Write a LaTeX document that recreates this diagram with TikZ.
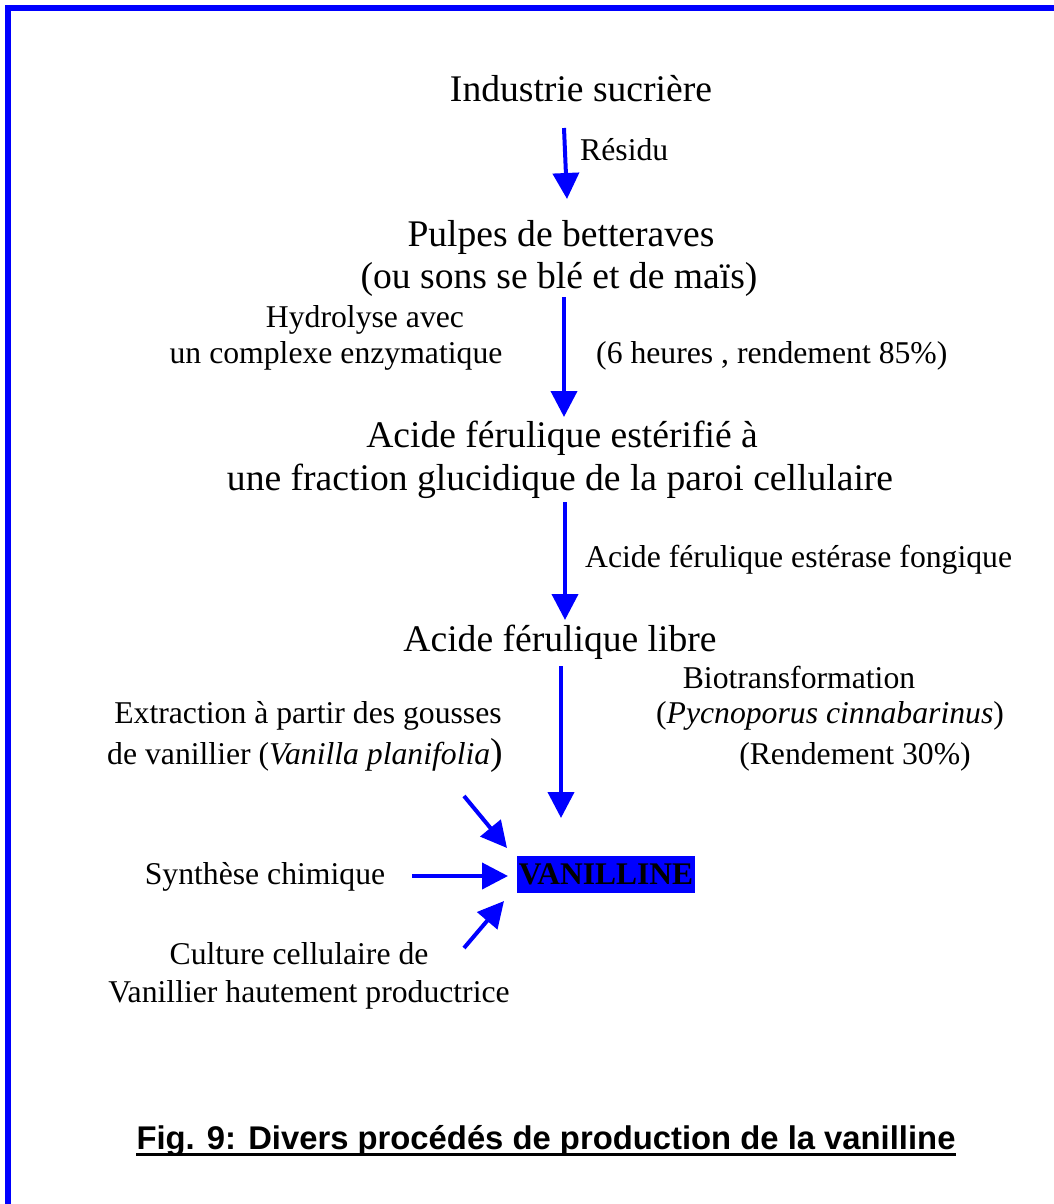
\documentclass[tikz,border=0pt]{standalone}
\usepackage{fontspec}
\setmainfont{Liberation Serif}
\newfontfamily\capfont{Liberation Sans}
\usetikzlibrary{arrows.meta}
\definecolor{pblue}{RGB}{0,0,255}
\tikzset{
  big/.style={inner sep=0pt, anchor=base, font=\fontsize{37.6}{44}\selectfont},
  small/.style={inner sep=0pt, anchor=base, font=\fontsize{31.7}{38}\selectfont},
  flow/.style={draw=pblue, line width=4pt, -{Triangle[length=26pt,width=26pt]}},
}
\begin{document}
\begin{tikzpicture}[x=1pt,y=-1pt]
\useasboundingbox (0,0) rectangle (1054,1204);
\draw[pblue, line width=6pt] (8,1210) -- (8,8) -- (1060,8);

% main column
\node[big] (ind) at (581,102) {Industrie sucrière};
\node[small, anchor=base west] (res) at (580,160) {Résidu};
\node[big] (pul1) at (561,246) {Pulpes de betteraves};
\node[big] (pul2) at (559,288) {(ou sons se blé et de maïs)};
\node[small] (hyd1) at (365,327) {Hydrolyse avec};
\node[small] (hyd2) at (336,363) {un complexe enzymatique};
\node[small, anchor=base west] (six) at (596,363) {(6 heures , rendement 85\%)};
\node[big] (est1) at (562,447) {Acide férulique estérifié à};
\node[big] (est2) at (560,490) {une fraction glucidique de la paroi cellulaire};
\node[small, anchor=base west] (ester) at (585,567) {Acide férulique estérase fongique};
\node[big] (libre) at (560,651) {Acide férulique libre};
\node[small] (bio1) at (799,688) {Biotransformation};
\node[small] (bio2) at (830,723) {(\textit{Pycnoporus cinnabarinus})};
\node[small] (bio3) at (855,764) {(Rendement 30\%)};
\node[small] (ext1) at (308,723) {Extraction à partir des gousses};
\node[small] (ext2) at (305,764) {de vanillier (\textit{Vanilla planifolia}{\fontsize{37.6}{44}\selectfont)}};
\node[small] (syn) at (265,884) {Synthèse chimique};
\node[small] (cul1) at (299,964) {Culture cellulaire de};
\node[small] (cul2) at (309,1002) {Vanillier hautement productrice};

\node[fill=pblue, inner xsep=2pt, inner ysep=0pt, minimum height=37pt,
      font=\fontsize{31.5}{38}\selectfont\bfseries] (van) at (606,874.5) {VANILLINE};

\node[inner sep=0pt, anchor=base, font=\capfont\bfseries\fontsize{32.8}{40}\selectfont]
  (cap) at (546,1149) {Fig. 9: Divers procédés de production de la vanilline};
\draw[line width=3.5pt] ([yshift=-5.5pt]cap.base west) -- ([yshift=-5.5pt]cap.base east);

% arrow endpoints
\coordinate (a1s) at (564,128);  \coordinate (a1e) at (567,199);
\coordinate (a2s) at (564,297);  \coordinate (a2e) at (564,417);
\coordinate (a3s) at (565,502);  \coordinate (a3e) at (565,620);
\coordinate (a4s) at (561,666);  \coordinate (a4e) at (561,818);
\coordinate (d1s) at (464,796);  \coordinate (d1e) at (507,848);
\coordinate (hs)  at (412,876);  \coordinate (he)  at (508,876);
\coordinate (d2s) at (464,948);  \coordinate (d2e) at (504,901);

\draw[flow] (a1s) -- (a1e);
\draw[flow] (a2s) -- (a2e);
\draw[flow] (a3s) -- (a3e);
\draw[flow] (a4s) -- (a4e);
\draw[flow] (d1s) -- (d1e);
\draw[flow] (hs) -- (he);
\draw[flow] (d2s) -- (d2e);
\end{tikzpicture}
\end{document}
